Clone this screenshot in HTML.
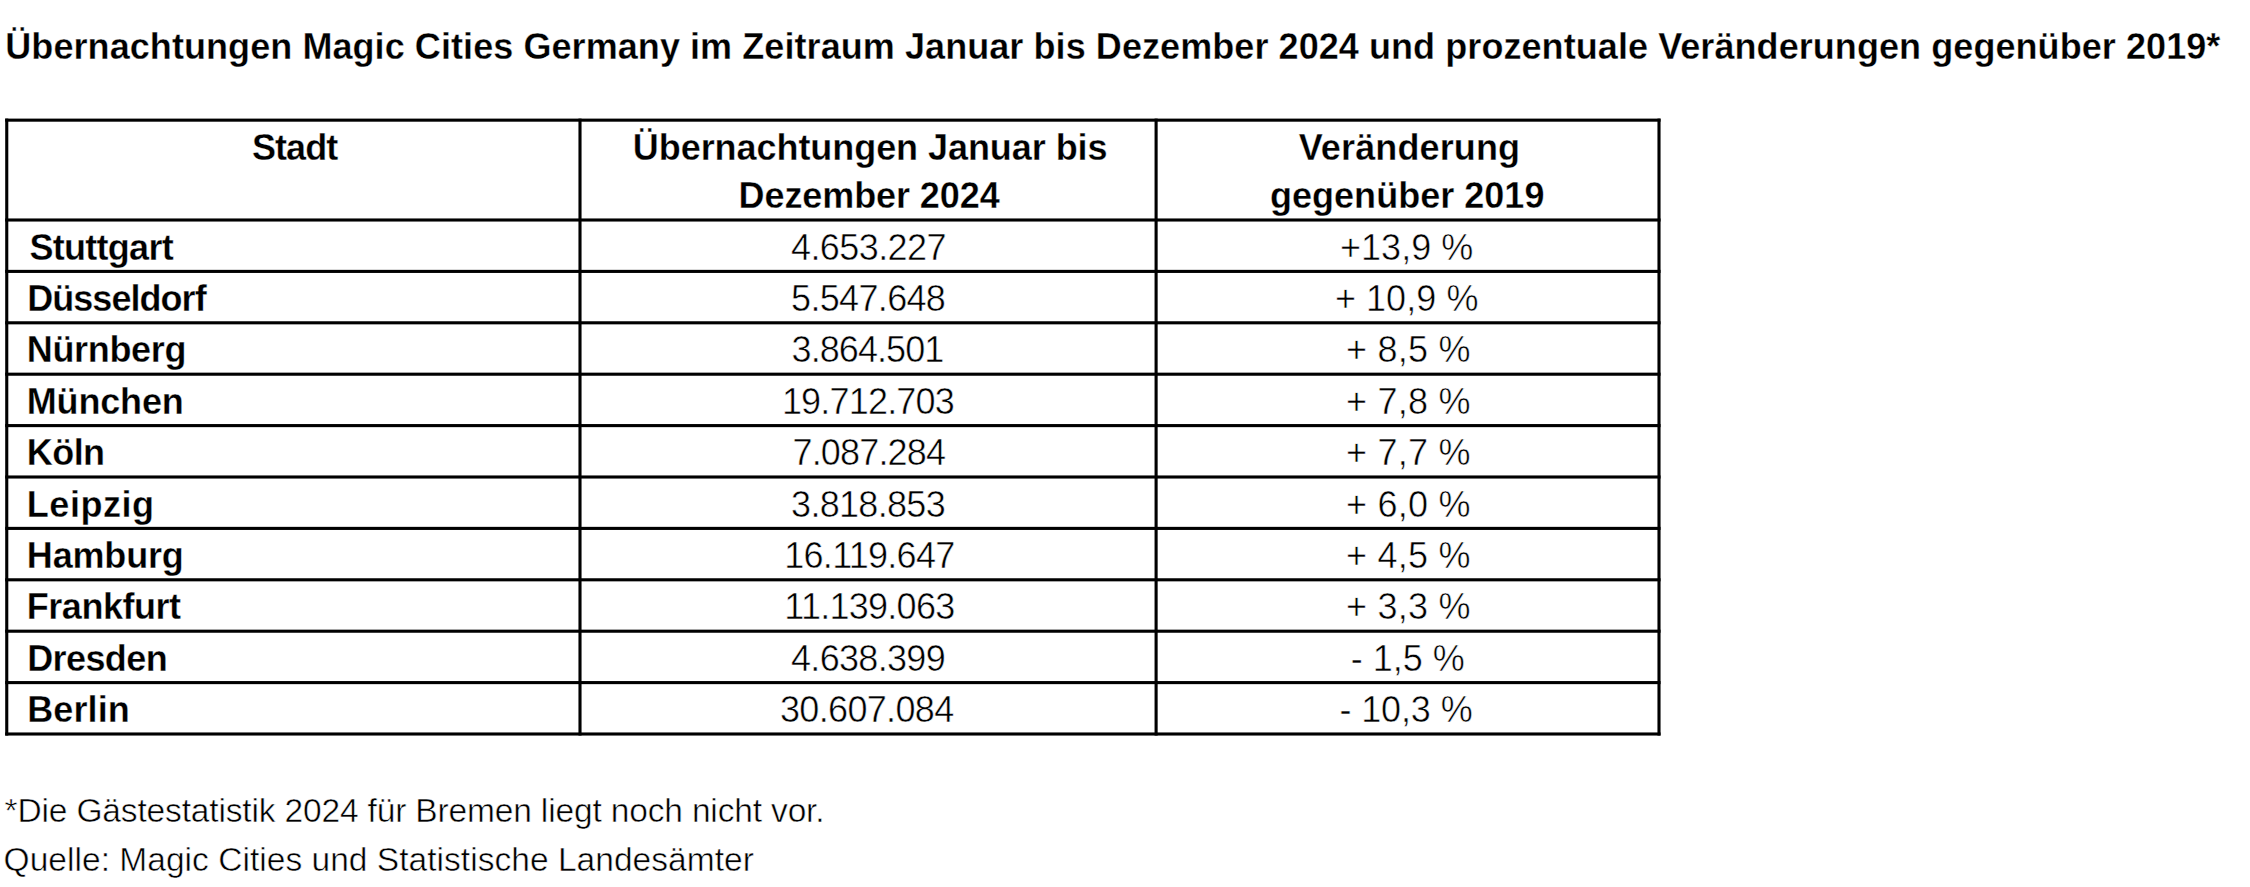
<!DOCTYPE html>
<html><head><meta charset="utf-8"><style>
html,body{margin:0;padding:0;background:#fff;width:2250px;height:887px;overflow:hidden;position:relative}
.g{position:absolute;left:0;top:0}
.g rect{fill:#000}
.t{position:absolute;font-family:"Liberation Sans",sans-serif;color:#000;white-space:nowrap;line-height:100px}
</style></head><body>
<svg class="g" width="2250" height="887">
<rect x="5.20" y="118.60" width="3.1" height="616.95"/>
<rect x="578.45" y="118.60" width="3.1" height="616.95"/>
<rect x="1154.55" y="118.60" width="3.1" height="616.95"/>
<rect x="1657.45" y="118.60" width="3.1" height="616.95"/>
<rect x="5.20" y="118.60" width="1655.35" height="3.1"/>
<rect x="5.20" y="218.45" width="1655.35" height="3.1"/>
<rect x="5.20" y="269.85" width="1655.35" height="3.1"/>
<rect x="5.20" y="321.25" width="1655.35" height="3.1"/>
<rect x="5.20" y="372.65" width="1655.35" height="3.1"/>
<rect x="5.20" y="424.05" width="1655.35" height="3.1"/>
<rect x="5.20" y="475.45" width="1655.35" height="3.1"/>
<rect x="5.20" y="526.85" width="1655.35" height="3.1"/>
<rect x="5.20" y="578.25" width="1655.35" height="3.1"/>
<rect x="5.20" y="629.65" width="1655.35" height="3.1"/>
<rect x="5.20" y="681.05" width="1655.35" height="3.1"/>
<rect x="5.20" y="732.45" width="1655.35" height="3.1"/>
</svg>
<div class="t" style="left:5.30px;top:-2.87px;font-size:36px;font-weight:bold;-webkit-text-stroke:0.3px #fff;letter-spacing:0.072px;">Übernachtungen Magic Cities Germany im Zeitraum Januar bis Dezember 2024 und prozentuale Veränderungen gegenüber 2019*</div>
<div class="t" style="left:251.90px;top:97.53px;font-size:36px;font-weight:bold;-webkit-text-stroke:0.3px #fff;letter-spacing:-0.925px;">Stadt</div>
<div class="t" style="left:632.80px;top:97.53px;font-size:36px;font-weight:bold;-webkit-text-stroke:0.3px #fff;letter-spacing:-0.054px;">Übernachtungen Januar bis</div>
<div class="t" style="left:738.60px;top:145.93px;font-size:36px;font-weight:bold;-webkit-text-stroke:0.3px #fff;letter-spacing:-0.092px;">Dezember 2024</div>
<div class="t" style="left:1298.70px;top:97.53px;font-size:36px;font-weight:bold;-webkit-text-stroke:0.3px #fff;letter-spacing:0.13px;">Veränderung</div>
<div class="t" style="left:1270.00px;top:145.93px;font-size:36px;font-weight:bold;-webkit-text-stroke:0.3px #fff;letter-spacing:0.023px;">gegenüber 2019</div>
<div class="t" style="left:29.40px;top:197.53px;font-size:36px;font-weight:bold;-webkit-text-stroke:0.3px #fff;letter-spacing:-0.713px;">Stuttgart</div>
<div class="t" style="left:791.00px;top:197.53px;font-size:36px;-webkit-text-stroke:0.5px #fff;letter-spacing:-0.588px;">4.653.227</div>
<div class="t" style="left:1340.00px;top:197.53px;font-size:36px;-webkit-text-stroke:0.5px #fff;letter-spacing:0.033px;">+13,9 %</div>
<div class="t" style="left:27.20px;top:248.93px;font-size:36px;font-weight:bold;-webkit-text-stroke:0.3px #fff;letter-spacing:-0.956px;">Düsseldorf</div>
<div class="t" style="left:791.10px;top:248.93px;font-size:36px;-webkit-text-stroke:0.5px #fff;letter-spacing:-0.675px;">5.547.648</div>
<div class="t" style="left:1334.90px;top:248.93px;font-size:36px;-webkit-text-stroke:0.5px #fff;letter-spacing:0.057px;">+ 10,9 %</div>
<div class="t" style="left:26.80px;top:300.33px;font-size:36px;font-weight:bold;-webkit-text-stroke:0.3px #fff;letter-spacing:-0.343px;">Nürnberg</div>
<div class="t" style="left:791.60px;top:300.33px;font-size:36px;-webkit-text-stroke:0.5px #fff;letter-spacing:-0.938px;">3.864.501</div>
<div class="t" style="left:1346.00px;top:300.33px;font-size:36px;-webkit-text-stroke:0.5px #fff;letter-spacing:0.25px;">+ 8,5 %</div>
<div class="t" style="left:26.80px;top:351.73px;font-size:36px;font-weight:bold;-webkit-text-stroke:0.3px #fff;letter-spacing:-0.167px;">München</div>
<div class="t" style="left:781.90px;top:351.73px;font-size:36px;-webkit-text-stroke:0.5px #fff;letter-spacing:-0.811px;">19.712.703</div>
<div class="t" style="left:1346.00px;top:351.73px;font-size:36px;-webkit-text-stroke:0.5px #fff;letter-spacing:0.25px;">+ 7,8 %</div>
<div class="t" style="left:26.80px;top:403.13px;font-size:36px;font-weight:bold;-webkit-text-stroke:0.3px #fff;letter-spacing:-0.567px;">Köln</div>
<div class="t" style="left:792.50px;top:403.13px;font-size:36px;-webkit-text-stroke:0.5px #fff;letter-spacing:-0.838px;">7.087.284</div>
<div class="t" style="left:1346.00px;top:403.13px;font-size:36px;-webkit-text-stroke:0.5px #fff;letter-spacing:0.25px;">+ 7,7 %</div>
<div class="t" style="left:26.80px;top:454.53px;font-size:36px;font-weight:bold;-webkit-text-stroke:0.3px #fff;letter-spacing:0.55px;">Leipzig</div>
<div class="t" style="left:791.10px;top:454.53px;font-size:36px;-webkit-text-stroke:0.5px #fff;letter-spacing:-0.7px;">3.818.853</div>
<div class="t" style="left:1346.00px;top:454.53px;font-size:36px;-webkit-text-stroke:0.5px #fff;letter-spacing:0.25px;">+ 6,0 %</div>
<div class="t" style="left:26.80px;top:505.93px;font-size:36px;font-weight:bold;-webkit-text-stroke:0.3px #fff;letter-spacing:-0.167px;">Hamburg</div>
<div class="t" style="left:784.30px;top:505.93px;font-size:36px;-webkit-text-stroke:0.5px #fff;letter-spacing:-0.733px;">16.119.647</div>
<div class="t" style="left:1346.00px;top:505.93px;font-size:36px;-webkit-text-stroke:0.5px #fff;letter-spacing:0.25px;">+ 4,5 %</div>
<div class="t" style="left:26.80px;top:557.33px;font-size:36px;font-weight:bold;-webkit-text-stroke:0.3px #fff;letter-spacing:-0.475px;">Frankfurt</div>
<div class="t" style="left:784.30px;top:557.33px;font-size:36px;-webkit-text-stroke:0.5px #fff;letter-spacing:-0.733px;">11.139.063</div>
<div class="t" style="left:1346.00px;top:557.33px;font-size:36px;-webkit-text-stroke:0.5px #fff;letter-spacing:0.25px;">+ 3,3 %</div>
<div class="t" style="left:27.20px;top:608.73px;font-size:36px;font-weight:bold;-webkit-text-stroke:0.3px #fff;letter-spacing:-0.6px;">Dresden</div>
<div class="t" style="left:791.00px;top:608.73px;font-size:36px;-webkit-text-stroke:0.5px #fff;letter-spacing:-0.688px;">4.638.399</div>
<div class="t" style="left:1350.70px;top:608.73px;font-size:36px;-webkit-text-stroke:0.5px #fff;">- 1,5 %</div>
<div class="t" style="left:27.20px;top:660.13px;font-size:36px;font-weight:bold;-webkit-text-stroke:0.3px #fff;letter-spacing:0.12px;">Berlin</div>
<div class="t" style="left:780.00px;top:660.13px;font-size:36px;-webkit-text-stroke:0.5px #fff;letter-spacing:-0.667px;">30.607.084</div>
<div class="t" style="left:1339.40px;top:660.13px;font-size:36px;-webkit-text-stroke:0.5px #fff;letter-spacing:-0.114px;">- 10,3 %</div>
<div class="t" style="left:4.60px;top:761.29px;font-size:33.5px;-webkit-text-stroke:0.5px #fff;letter-spacing:-0.154px;">*Die Gästestatistik 2024 für Bremen liegt noch nicht vor.</div>
<div class="t" style="left:3.60px;top:809.59px;font-size:33.5px;-webkit-text-stroke:0.5px #fff;letter-spacing:0.035px;">Quelle: Magic Cities und Statistische Landesämter</div>
</body></html>
